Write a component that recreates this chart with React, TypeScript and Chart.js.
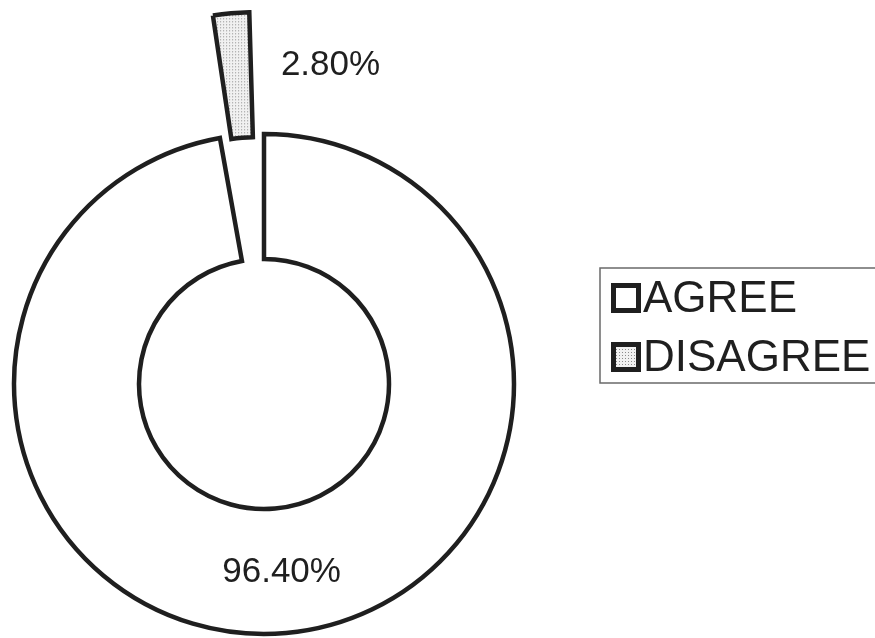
import React, { useEffect, useRef } from "react";
import { Chart, registerables } from "chart.js";

Chart.register(...registerables);

// ---- data ----
const categories = ["AGREE", "DISAGREE"];
const values = [96.4, 2.8];
const valueLabels = ["96.40%", "2.80%"];
const explodeOffsets = [0, 268];

const INK = "#1f1f1f";
const FONT = "'Liberation Sans', Arial, Helvetica, sans-serif";

function makeDotPattern(): CanvasPattern | string {
  const c = document.createElement("canvas");
  c.width = 3;
  c.height = 3;
  const g = c.getContext("2d");
  if (!g) return "#e2e2e2";
  g.fillStyle = "#f1f1f1";
  g.fillRect(0, 0, 3, 3);
  g.fillStyle = "#8c8c8c";
  g.fillRect(1, 1, 1, 1);
  return g.createPattern(c, "repeat") || "#e2e2e2";
}

const overlayPlugin = {
  id: "overlayLabels",
  afterDraw(chart: any) {
    const ctx: CanvasRenderingContext2D = chart.ctx;
    const meta = chart.getDatasetMeta(0);
    const bg = chart.data.datasets[0].backgroundColor as any[];
    ctx.save();
    // value labels
    ctx.fillStyle = INK;
    ctx.font = `35px ${FONT}`;
    ctx.textAlign = "center";
    ctx.textBaseline = "middle";
    meta.data.forEach((arc: any, i: number) => {
      const p = arc.getCenterPoint();
      const shiftX = explodeOffsets[i] > 0 ? 95 : 0;
      ctx.fillText(valueLabels[i], p.x + shiftX + (explodeOffsets[i] > 0 ? 0 : 1), p.y + 2);
    });

    // legend
    const boxLeft = 600;
    const boxTop = 268;
    const rowGap = 59;
    ctx.lineWidth = 1.5;
    ctx.strokeStyle = "#6a6a6a";
    ctx.beginPath();
    ctx.moveTo(chart.width + 2, boxTop);
    ctx.lineTo(boxLeft, boxTop);
    ctx.lineTo(boxLeft, boxTop + 115);
    ctx.lineTo(chart.width + 2, boxTop + 115);
    ctx.stroke();

    ctx.font = `44px ${FONT}`;
    ctx.textAlign = "left";
    ctx.textBaseline = "alphabetic";
    categories.forEach((name, i) => {
      const mx = boxLeft + 13.5;
      const my = boxTop + 17.5 + i * rowGap;
      ctx.fillStyle = bg[i];
      ctx.fillRect(mx, my, 25, 25);
      ctx.lineWidth = 5;
      ctx.strokeStyle = INK;
      ctx.lineJoin = "miter";
      ctx.strokeRect(mx, my, 25, 25);
      ctx.fillStyle = INK;
      ctx.fillText(name, boxLeft + 43, boxTop + 44 + i * rowGap);
    });
    ctx.restore();
  },
};

export default function App() {
  const canvasRef = useRef<HTMLCanvasElement | null>(null);

  useEffect(() => {
    const canvas = canvasRef.current;
    if (!canvas) return;
    const pattern = makeDotPattern();
    const chart = new Chart(canvas, {
      type: "doughnut",
      data: {
        labels: categories,
        datasets: [
          {
            data: values,
            backgroundColor: ["#ffffff", pattern as any],
            borderColor: INK,
            borderWidth: 4.5,
            borderJoinStyle: "miter",
            offset: explodeOffsets,
            clip: false as any,
          } as any,
        ],
      },
      options: {
        responsive: false,
        animation: false,
        devicePixelRatio: 1,
        events: [],
        radius: 250,
        cutout: "50%",
        rotation: 0,
        layout: { padding: { left: 14, right: 361, top: 134, bottom: 4 } },
        plugins: {
          legend: { display: false },
          tooltip: { enabled: false },
          title: { display: false },
        },
      } as any,
      plugins: [overlayPlugin],
    });
    return () => chart.destroy();
  }, []);

  return (
    <div style={{ position: "fixed", left: 0, top: 0, width: 875, height: 638, background: "#ffffff" }}>
      <canvas ref={canvasRef} width={875} height={638} style={{ display: "block", width: 875, height: 638 }} />
    </div>
  );
}
